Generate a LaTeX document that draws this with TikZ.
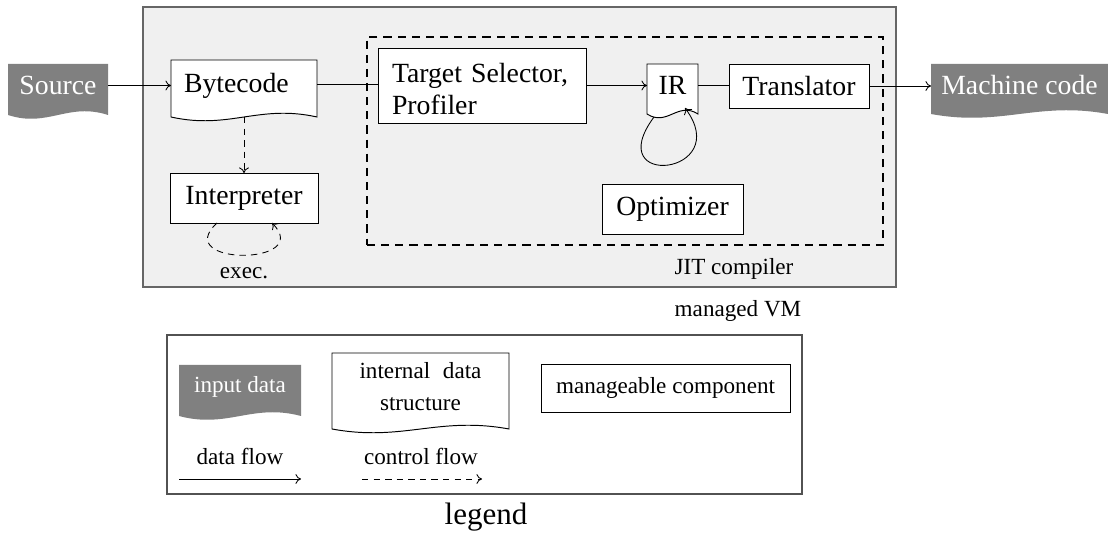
\documentclass[tikz,border=0pt]{standalone}
\usepackage{fontspec}
\setmainfont{Liberation Serif}[Scale=1.08]
\usetikzlibrary{calc,arrows.meta}
\pgfdeclarelayer{bg}
\pgfdeclarelayer{mid}
\pgfsetlayers{bg,mid,main}
\definecolor{vmfill}{HTML}{F0F0F0}
\definecolor{vmline}{HTML}{666666}
\definecolor{datagray}{HTML}{808080}
\def\px{0.467pt}
% wavy-bottom document outline behind a named node
\newcommand\docshape[3]{%
  \begin{pgfonlayer}{mid}
  \path[#3] (#1.north west) -- (#1.north east) -- ($(#1.south east)+(0,#2)$)
    .. controls ($(#1.south east)!0.4!(#1.south west)+(0,#2-13)$)
       and ($(#1.south east)!0.6!(#1.south west)+(0,#2+13)$)
    .. ($(#1.south west)+(0,#2)$) -- cycle;
  \end{pgfonlayer}}
\begin{document}
\begin{tikzpicture}[x=0.467pt,y=-0.467pt,
  every node/.style={inner sep=0pt, outer sep=0pt},
  tip/.style={-{Computer Modern Rightarrow[length=2.6pt,width=4.6pt]}},
  comp/.style={draw, fill=white, line width=0.45pt, anchor=north west, font=\large},
  datanode/.style={anchor=north west, font=\large, text=white},
  structnode/.style={anchor=north west, font=\large},
  docline/.style={draw, fill=white, line width=0.45pt},
  docfill/.style={fill=datagray},
  lbl/.style={font=\normalsize, anchor=base},
  flow/.style={tip, line width=0.4pt},
  plainflow/.style={line width=0.4pt},
  ctrl/.style={tip, line width=0.4pt, dash pattern=on 3pt off 2.4pt},
  vmbox/.style={draw=vmline, fill=vmfill, line width=0.7pt, anchor=north west},
  jitbox/.style={draw=black, line width=1pt, dash pattern=on 3.8pt off 2.8pt, anchor=north west},
  legbox/.style={draw=vmline!80!black, line width=0.7pt, anchor=north west}
]
\useasboundingbox (0,0) rectangle (1108,536);

% containers
\begin{pgfonlayer}{bg}
\node[vmbox, minimum width=753*\px, minimum height=280*\px] (vm) at (143,7) {};
\node[jitbox, minimum width=516*\px, minimum height=208*\px] (jit) at (367,37) {};
\end{pgfonlayer}

% data / structures
\node[datanode, minimum width=100*\px, minimum height=43*\px] (src) at (8,64) {Source};
\docshape{src}{8}{docfill}
\node[structnode, minimum width=146*\px, minimum height=49*\px, text width=120*\px, align=left, inner xsep=13*\px] (byte) at (171,60) {\rule{0pt}{10pt}Bytecode};
\docshape{byte}{8}{docline}
\node[structnode, minimum width=51*\px, minimum height=42*\px] (ir) at (647,64) {IR};
\docshape{ir}{8}{docline}
\node[datanode, minimum width=177*\px, minimum height=43*\px] (mc) at (931,64) {Machine code};
\docshape{mc}{7}{docfill}

% components
\node[comp, minimum width=208*\px, minimum height=75*\px, text width=180*\px, align=left, inner xsep=14*\px,
      font=\fontsize{12}{15}\selectfont] (tgt) at (378,48) {\rule{0pt}{12pt}Target Selector,\\Profiler};
\node[comp, minimum width=140*\px, minimum height=44*\px] (tr) at (729,64) {Translator};
\node[comp, minimum width=148*\px, minimum height=50*\px] (interp) at (170,173) {Interpreter};
\node[comp, minimum width=141*\px, minimum height=50*\px] (opt) at (602,184) {Optimizer};

% connectors
\draw[flow] (src.east) -- (src.east -| byte.west);
\draw[plainflow] (byte.east) -- (byte.east -| tgt.west);
\draw[flow] (tgt.east) -- (tgt.east -| ir.west);
\draw[plainflow] (ir.east) -- (ir.east -| tr.west);
\draw[flow] (tr.east) -- (tr.east -| mc.west);
\draw[ctrl] ($(byte.south)+(0,8)$) -- (interp.north);
\draw[flow] ($(ir.south west)+(7,11)$) .. controls +(-54,73) and +(50,67) .. ($(ir.south east)+(-13,2)$);
\draw[ctrl] ($(interp.south west)+(47,0)$) .. controls +(-47,43) and +(43,43) .. ($(interp.south east)+(-46,0)$);

% labels
\node[lbl] (exec) at (244,279) {exec.};
\node[lbl] (jitlbl) at (734,275) {JIT compiler};
\node[lbl] (vmlbl) at (738,317) {managed VM};

% legend
\node[legbox, minimum width=635*\px, minimum height=159*\px] (leg) at (167,335) {};
\node[anchor=base, font=\fontsize{13.4}{16}\selectfont] (leglbl) at (486,525) {legend};
\node[anchor=north west, font=\normalsize, text=white, minimum width=122*\px, minimum height=43*\px] (lin) at (179,365) {input data};
\docshape{lin}{8}{docfill}
\node[anchor=north west, font=\fontsize{10}{15}\selectfont, align=center, minimum width=177*\px, minimum height=67*\px] (lst) at (332,353) {internal\hspace{0.55em}data\\structure};
\docshape{lst}{9}{docline}
\node[comp, font=\normalsize, minimum width=249*\px, minimum height=48*\px] (lcomp) at (541,364) {manageable component};
\coordinate (df1) at (179,479);
\coordinate (df2) at (301,479);
\coordinate (cf1) at (362,479);
\coordinate (cf2) at (482,479);
\draw[flow] (df1) -- (df2);
\draw[ctrl] (cf1) -- (cf2);
\node[lbl] (dflbl) at (240,465) {data flow};
\node[lbl] (cflbl) at (421,465) {control flow};
\end{tikzpicture}
\end{document}
